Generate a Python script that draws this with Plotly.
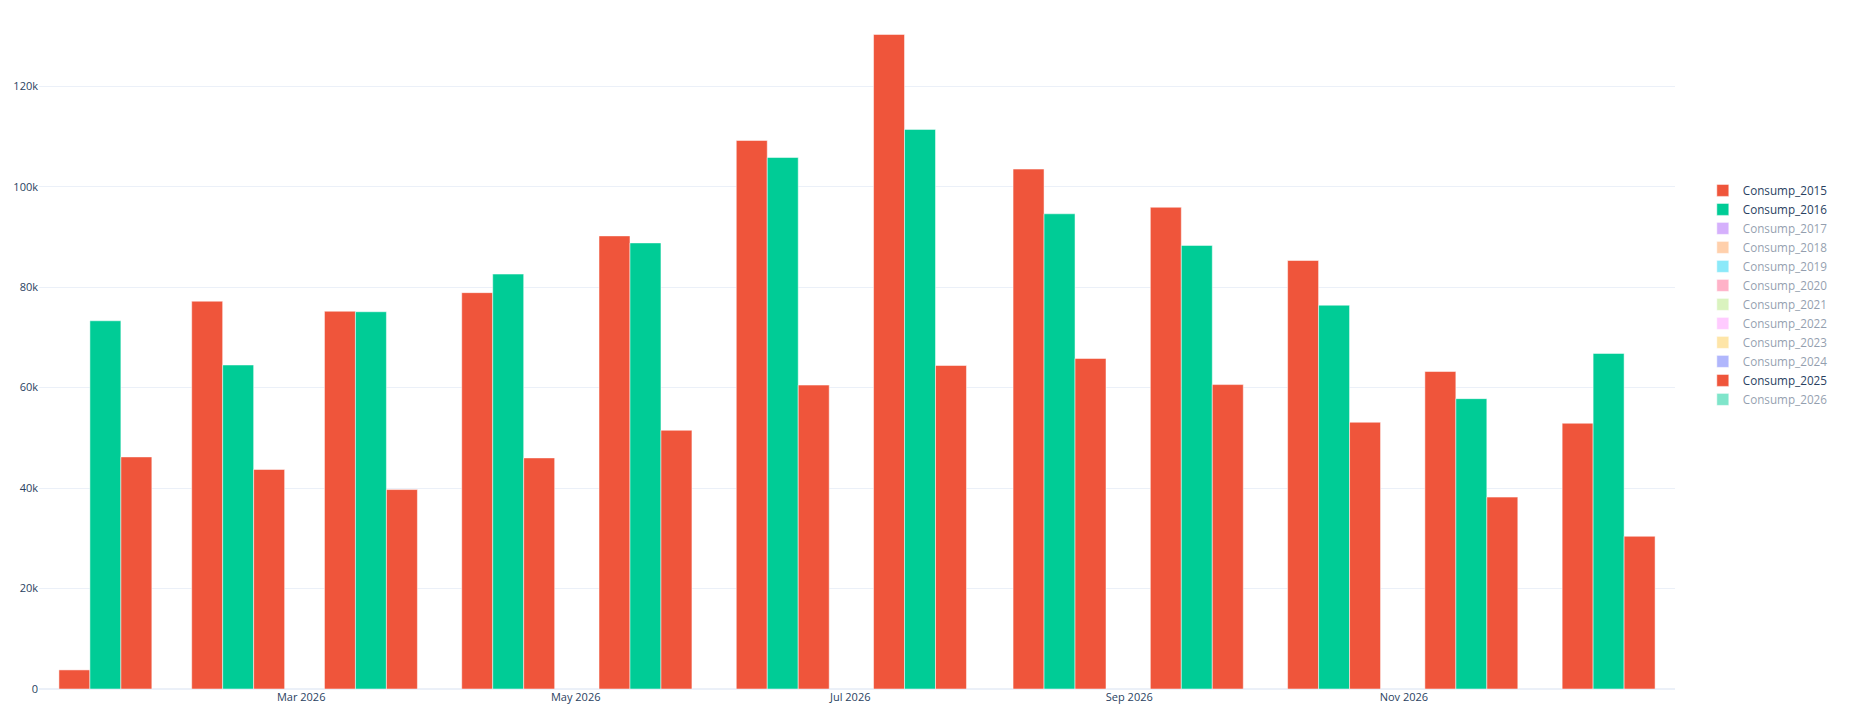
import plotly.graph_objects as go

months = ["2026-01-01", "2026-02-01", "2026-03-01", "2026-04-01", "2026-05-01", "2026-06-01",
          "2026-07-01", "2026-08-01", "2026-09-01", "2026-10-01", "2026-11-01", "2026-12-01"]

consump_2015 = [3800, 77200, 75200, 78900, 90200, 109200, 130300, 103500, 95900, 85300, 63200, 52900]
consump_2016 = [73300, 64500, 75100, 82600, 88800, 105800, 111400, 94600, 88300, 76400, 57800, 66800]
consump_2025 = [46200, 43700, 39700, 46000, 51500, 60500, 64400, 65800, 60600, 53100, 38200, 30400]

series_names = ["Consump_2015", "Consump_2016", "Consump_2017", "Consump_2018", "Consump_2019",
                "Consump_2020", "Consump_2021", "Consump_2022", "Consump_2023", "Consump_2024",
                "Consump_2025", "Consump_2026"]
series_colors = ["#EF553B", "#00CC96", "#AB63FA", "#FFA15A", "#19D3F3", "#FF6692",
                 "#B6E880", "#FF97FF", "#FECB52", "#636EFA", "#EF553B", "#00CC96"]
visible_data = {"Consump_2015": consump_2015, "Consump_2016": consump_2016, "Consump_2025": consump_2025}

fig = go.Figure()
for name, color in zip(series_names, series_colors):
    if name in visible_data:
        y = visible_data[name]
        vis = True
    else:
        y = [None] * len(months)
        vis = "legendonly"
    fig.add_trace(go.Bar(
        x=months, y=y, name=name, visible=vis,
        marker=dict(color=color, line=dict(color="white", width=0.5)),
        xperiod="M1", xperiodalignment="middle",
    ))

fig.update_layout(
    template="plotly_white",
    width=1864, height=720,
    margin=dict(l=39, r=189, t=0, b=31),
    barmode="group",
    bargap=0.3,
    font=dict(family="Open Sans, verdana, arial, sans-serif", size=11, color="#2a3f5f"),
    legend=dict(x=1.017, xanchor="left", y=0.572, yanchor="middle", font=dict(size=11.7)),
    showlegend=True,
)
fig.update_xaxes(showgrid=False, tickfont=dict(size=11))
fig.update_yaxes(tickfont=dict(size=11))

fig.write_html("out.html")
